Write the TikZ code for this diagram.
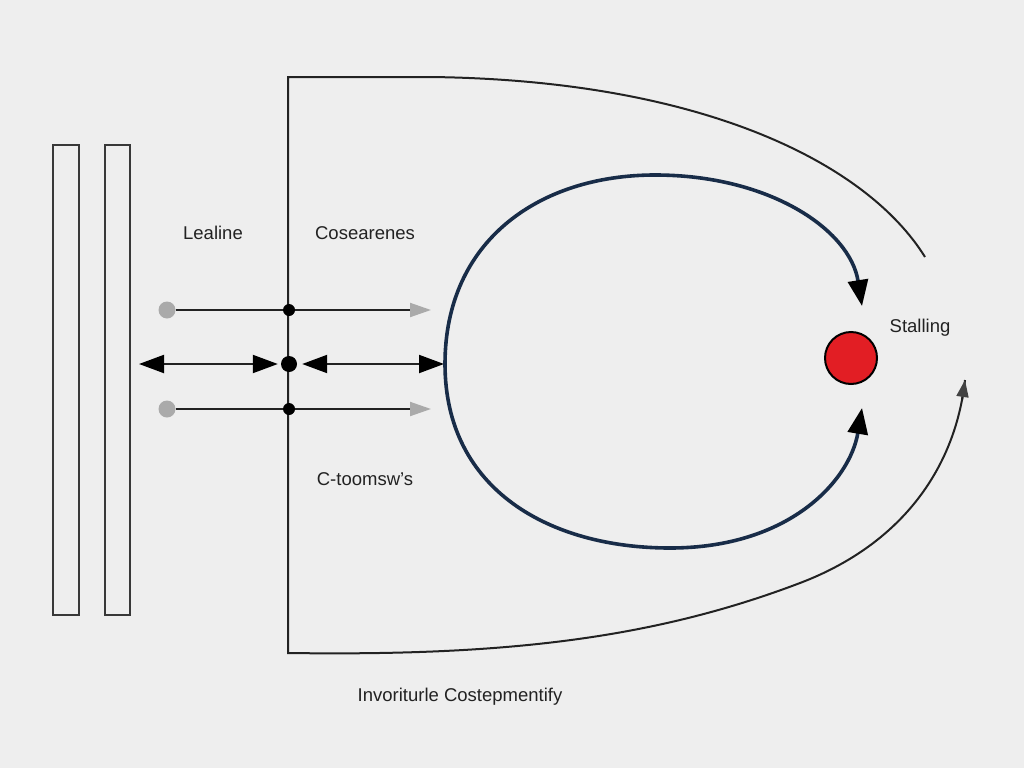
\documentclass[tikz,border=0pt]{standalone}
\usepackage{fontspec}
\setmainfont{Liberation Sans}
\usetikzlibrary{arrows.meta}
\definecolor{bg}{RGB}{238,238,238}
\definecolor{ink}{RGB}{34,34,34}
\definecolor{navy}{RGB}{24,44,72}
\definecolor{dotgray}{RGB}{170,170,170}
\definecolor{redfill}{RGB}{226,30,36}
\tikzset{
  thinline/.style={draw=ink, line width=2pt},
  gdot/.style={circle, fill=dotgray, inner sep=0pt, minimum size=17pt},
  bdot/.style={circle, fill=black, inner sep=0pt, minimum size=12pt},
  bigdot/.style={circle, fill=black, inner sep=0pt, minimum size=16pt},
  lbl/.style={font=\fontsize{18.5pt}{20pt}\selectfont, text=ink, inner sep=0pt},
  gtip/.style={-{Triangle[length=21pt,width=14pt,color=dotgray]}},
  btips/.style={{Triangle[length=25pt,width=18pt,color=black]}-{Triangle[length=25pt,width=18pt,color=black]}},
  looptip/.style={-{Triangle[length=26pt,width=20pt,color=black]}},
  bar/.style={draw=ink!90, line width=2.5pt},
}
\begin{document}
\begin{tikzpicture}[x=1pt,y=-1pt]
\useasboundingbox[fill=bg] (0,0) rectangle (1024,768);

% left bars
\draw[bar] (53,145) rectangle (79,615);
\draw[bar] (105,145) rectangle (130,615);

% outer shape
\coordinate (ot) at (288,77);
\coordinate (ob) at (288,653);
\coordinate (oend1) at (925,257);
\coordinate (oend2) at (965,380);
\draw[thinline] (oend1) .. controls (866,162) and (700,80) .. (430,77) -- (ot) -- (ob)
  .. controls (500,656) and (650,640) .. (800,583)
  .. controls (900,545) and (955,470) .. (oend2);
\draw[thinline, -{Triangle[length=17pt,width=12pt,color=ink!85]}] (962,400) -- (oend2);

% labels
\node[lbl] (lealine) at (213,233) {Lealine};
\node[lbl] (cosear) at (365,233) {Cosearenes};
\node[lbl] (ctoo) at (365,479) {C-toomsw's};
\node[lbl] (stall) at (920,328) {Stalling};
\node[lbl] (inv) at (460,697) {Invoriturle Costepmentify};

% row 1
\node[gdot] (g1) at (167,310) {};
\node[bdot] (d1) at (289,310) {};
\coordinate (t1) at (431,310);
\draw[thinline] (g1) -- (d1);
\draw[thinline, gtip] (d1) -- (t1);

% row 3
\node[gdot] (g3) at (167,409) {};
\node[bdot] (d3) at (289,409) {};
\coordinate (t3) at (431,409);
\draw[thinline] (g3) -- (d3);
\draw[thinline, gtip] (d3) -- (t3);

% row 2
\coordinate (l2) at (139,364);
\node[bigdot] (d2) at (289,364) {};
\coordinate (r2) at (444,364);
\draw[thinline, btips, shorten >=3pt] (l2) -- (d2);
\draw[thinline, btips, shorten <=5pt] (d2) -- (r2);

% navy loop
\coordinate (lp) at (445,364);
\coordinate (tipA) at (862,306);
\coordinate (tipB) at (862,408);
\draw[navy, line width=3.6pt, looptip] (lp) .. controls (445,240) and (540,175) .. (655,175)
  .. controls (770,175) and (850,230) .. (tipA);
\draw[navy, line width=3.6pt, looptip] (lp) .. controls (445,490) and (550,548) .. (670,548)
  .. controls (790,548) and (850,480) .. (tipB);

% red circle
\node[circle, fill=redfill, draw=black, line width=2pt, minimum size=52pt, inner sep=0pt] (red) at (851,358) {};
\end{tikzpicture}
\end{document}
